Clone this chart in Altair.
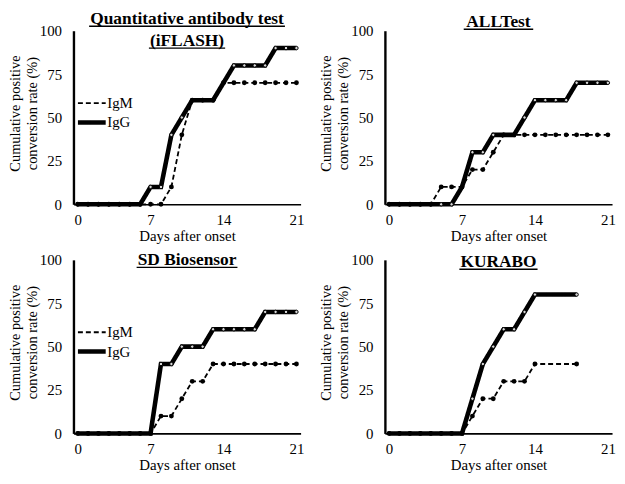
import altair as alt
import pandas as pd

# ---- data ----
days_full = list(range(22))

iflash_igm = [0, 0, 0, 0, 0, 0, 0, 0, 0, 10, 40, 60, 60, 60, 70, 70, 70, 70, 70, 70, 70, 70]
iflash_igg = [0, 0, 0, 0, 0, 0, 0, 10, 10, 40, 50, 60, 60, 60, 70, 80, 80, 80, 80, 90, 90, 90]

alltest_igm = [0, 0, 0, 0, 0, 10, 10, 10, 20, 20, 30, 40, 40, 40, 40, 40, 40, 40, 40, 40, 40, 40]
alltest_igg = [0, 0, 0, 0, 0, 0, 0, 10, 30, 30, 40, 40, 40, 50, 60, 60, 60, 60, 70, 70, 70, 70]

sd_igm = [0, 0, 0, 0, 0, 0, 0, 0, 10, 10, 20, 30, 30, 40, 40, 40, 40, 40, 40, 40, 40, 40]
sd_igg = [0, 0, 0, 0, 0, 0, 0, 0, 40, 40, 50, 50, 50, 60, 60, 60, 60, 60, 70, 70, 70, 70]

kurabo_days = [0, 1, 2, 3, 4, 5, 6, 7, 8, 9, 10, 11, 12, 13, 14, 18]
kurabo_igm = [0, 0, 0, 0, 0, 0, 0, 0, 10, 20, 20, 30, 30, 30, 40, 40]
kurabo_igg = [0, 0, 0, 0, 0, 0, 0, 0, 20, 40, 50, 60, 60, 70, 80, 80]

series_names = ["IgM", "IgG"]
x_ticks = [0, 7, 14, 21]
y_ticks = [0, 25, 50, 75, 100]
y_title_lines = ["Cumulative positive", "conversion rate (%)"]
x_title = "Days after onset"

FONT = "Liberation Serif"
TITLE_SIZE = 17.5

# approximate advance widths of Times/Liberation Serif Bold (per 1000 em),
# used only to size the title underline
_BOLD_W = {" ": 250, "(": 333, ")": 333, "A": 722, "B": 667, "D": 722, "F": 611,
           "H": 778, "K": 778, "L": 667, "O": 778, "Q": 778, "R": 722, "S": 556,
           "T": 667, "U": 722, "a": 500, "b": 556, "d": 556, "e": 444, "i": 278,
           "n": 556, "o": 500, "r": 444, "s": 389, "t": 333, "u": 556, "v": 500,
           "y": 500}


def text_width(s):
    return sum(_BOLD_W.get(c, 500) for c in s) * TITLE_SIZE / 1000.0


def make_df(days, igm, igg):
    rows = []
    for d, v in zip(days, igm):
        rows.append({"day": d, "rate": v, "series": "IgM"})
    for d, v in zip(days, igg):
        rows.append({"day": d, "rate": v, "series": "IgG"})
    return pd.DataFrame(rows)


W, H = 229, 175
ONE = alt.Data(values=[{"k": 0}])


def title_layers(lines, baselines):
    out = []
    for txt, by in zip(lines, baselines):
        w = text_width(txt) + 2
        t = alt.Chart(ONE).mark_text(
            text=txt, font=FONT, fontSize=TITLE_SIZE, fontWeight="bold",
            color="black", align="center", baseline="alphabetic",
        ).encode(x=alt.value(W / 2), y=alt.value(by))
        u = alt.Chart(ONE).mark_rule(color="black", strokeWidth=1.3).encode(
            x=alt.value(W / 2 - w / 2), x2=alt.value(W / 2 + w / 2),
            y=alt.value(by + 2.5))
        out += [t, u]
    return out


def ytitle_layers():
    out = []
    for txt, dx in zip(y_title_lines, [-58, -41]):
        out.append(alt.Chart(ONE).mark_text(
            text=txt, font=FONT, fontSize=14.5, color="black", angle=270,
            align="center", baseline="middle",
        ).encode(x=alt.value(dx), y=alt.value(H / 2 - 4)))
    return out


def panel(lines, baselines, days, igm, igg):
    df = make_df(days, igm, igg)
    base = alt.Chart(df).encode(
        x=alt.X("day:Q",
                scale=alt.Scale(domain=[-0.4, 21.4], nice=False, zero=False),
                axis=alt.Axis(values=x_ticks, title=x_title, ticks=False,
                              grid=False, labelPadding=8, titlePadding=1,
                              domainWidth=1.6, domainColor="black",
                              labelFont=FONT, labelFontSize=15, labelColor="black",
                              titleFont=FONT, titleFontSize=15, titleFontWeight="normal",
                              titleColor="black")),
        y=alt.Y("rate:Q",
                scale=alt.Scale(domain=[0, 100], nice=False),
                axis=alt.Axis(values=y_ticks, title=None,
                              ticks=False, grid=False, labelPadding=12,
                              domainWidth=2.4, domainColor="black",
                              labelFont=FONT, labelFontSize=15, labelColor="black")),
    )
    leg = alt.Legend(orient="none", legendX=9, legendY=65, title=None,
                     symbolType="M-2,0H2", symbolSize=196, symbolStrokeColor="black",
                     labelFont=FONT, labelFontSize=15, labelColor="black",
                     labelOffset=6, rowPadding=2)
    lines_mark = base.mark_line(color="black").encode(
        strokeDash=alt.StrokeDash("series:O",
                                  scale=alt.Scale(domain=series_names, range=[[5, 3], [1, 0]]),
                                  legend=leg),
        strokeWidth=alt.StrokeWidth("series:O",
                                    scale=alt.Scale(domain=series_names, range=[1.8, 4.6]),
                                    legend=leg),
        order="day:Q",
    )
    pts_m = base.transform_filter(alt.datum.series == "IgM").mark_point(
        filled=True, color="black", size=24, opacity=1)
    pts_g = base.transform_filter(alt.datum.series == "IgG").mark_point(
        filled=False, fill="#d8d8d8", stroke="black", strokeWidth=1, size=12, opacity=1)
    return alt.layer(lines_mark, pts_g, pts_m, *title_layers(lines, baselines),
                     *ytitle_layers()).properties(width=W, height=H)


p1 = panel(["Quantitative antibody test", "(iFLASH)"], [-7, 15],
           days_full, iflash_igm, iflash_igg)
p2 = panel(["ALLTest"], [-4], days_full, alltest_igm, alltest_igg)
p3 = panel(["SD Biosensor"], [5], days_full, sd_igm, sd_igg)
p4 = panel(["KURABO"], [7], kurabo_days, kurabo_igm, kurabo_igg)

row1 = alt.hconcat(p1, p2, spacing=14)
row2 = alt.hconcat(p3, p4, spacing=14)

chart = alt.vconcat(row1, row2, spacing=8).resolve_scale(
    strokeDash="independent", strokeWidth="independent"
).resolve_legend(strokeDash="independent", strokeWidth="independent").properties(
    padding=0, background="white"
).configure_view(stroke=None)

chart.save("out.html", embed_options={"renderer": "svg", "actions": False})
